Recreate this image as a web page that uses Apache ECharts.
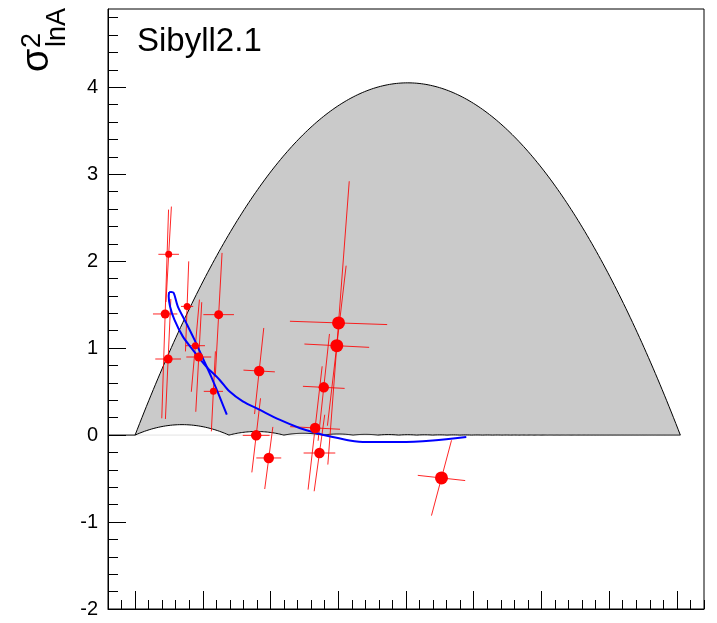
<!DOCTYPE html>
<html>
<head>
<meta charset="utf-8">
<script src="https://cdn.jsdelivr.net/npm/echarts@6/dist/echarts.min.js"></script>
<style>
  html, body { margin: 0; padding: 0; background: #fff; }
  #chart { width: 717px; height: 623px; }
</style>
</head>
<body>
<div id="chart"></div>
<script>
// Axis ranges and tick values
const xRange = [-0.2, 4.2];
const yRange = [-2, 4.9];
const xMajorTicks = [0, 0.5, 1, 1.5, 2, 2.5, 3, 3.5, 4];
const yTickLabels = [-2, -1, 0, 1, 2, 3, 4];

// Measured points: <lnA>, sigma^2(lnA), and the two (correlated) error arms
const pointLnA   = [0.248, 0.384, 0.445, 0.578, 0.222, 0.244, 0.470, 0.617, 0.916, 0.894, 0.987, 1.329, 1.361, 1.393, 1.489, 1.502, 2.262];
const pointSigma = [2.079, 1.480, 1.028, 0.503, 1.393, 0.875, 0.898, 1.385, 0.737, -0.003, -0.263, 0.082, -0.206, 0.549, 1.028, 1.290, -0.493];
const armHx = [0.076, 0.045, 0.071, 0.071, 0.090, 0.095, 0.092, 0.113, 0.116, 0.099, 0.092, 0.184, 0.117, 0.154, 0.239, 0.359, 0.175];
const armHy = [0, 0, 0, 0, 0, 0, 0, 0, -0.010, 0, 0, -0.015, 0, -0.012, -0.019, -0.019, -0.030];
const armVx = [0.020, 0.012, 0.030, 0.015, 0.025, 0.020, 0.022, 0.025, 0.034, 0.032, 0.030, 0.052, 0.039, 0.042, 0.069, 0.079, 0.074];
const armVy = [0.549, 0.518, 0.530, 0.460, 1.200, 0.690, 0.630, 0.710, 0.495, 0.426, 0.357, 0.709, 0.440, 0.614, 0.920, 1.629, 0.433];
const pointClass = [0, 0, 0, 0, 1, 1, 1, 1, 2, 2, 2, 2, 2, 2, 3, 3, 3];

// Model curves
const curveLongLnA   = [0.251, 0.248, 0.258, 0.290, 0.352, 0.425, 0.524, 0.623, 0.696, 0.795, 0.918, 1.066, 1.214, 1.337, 1.459, 1.583, 1.706, 1.952, 2.198, 2.445];
const curveLongSigma = [1.644, 1.596, 1.480, 1.327, 1.135, 0.982, 0.790, 0.637, 0.503, 0.388, 0.292, 0.177, 0.082, 0.024, -0.022, -0.061, -0.079, -0.079, -0.061, -0.022];
const curveShortLnA   = [0.251, 0.266, 0.285, 0.315, 0.377, 0.438, 0.499, 0.561, 0.623, 0.677];
const curveShortSigma = [1.644, 1.646, 1.635, 1.480, 1.290, 1.097, 0.887, 0.675, 0.445, 0.235];

// Physically allowed region for mixtures of nuclei with mass number A = 1..56
const lnAMax = Math.log(56);
const regionPts = [];
for (let i = 0; i <= 240; i++) {
  const l = lnAMax * i / 240;
  regionPts.push([l, l * (lnAMax - l)]);
}
for (let k = 55; k >= 1; k--) {
  const a = Math.log(k), b = Math.log(k + 1);
  const n = k < 6 ? 40 : 6;
  for (let j = 0; j <= n; j++) {
    const l = b - (b - a) * j / n;
    regionPts.push([l, (l - a) * (b - l)]);
  }
}

const xMinorTicks = [];
for (let i = -2; i <= 42; i++) xMinorTicks.push(+(i / 10).toFixed(1));
const yMinorTicks = [];
for (let i = -10; i <= 24; i++) yMinorTicks.push(+(i / 5).toFixed(1));

const markerSizes = [7, 9, 10.5, 13];
const FONT = 'Liberation Sans, Arial, Helvetica, sans-serif';

const errRows = pointLnA.map((x, i) => [x, pointSigma[i], armHx[i], armHy[i], armVx[i], armVy[i]]);
const classData = markerSizes.map((_, c) =>
  pointLnA.map((x, i) => [x, pointSigma[i], i]).filter(d => pointClass[d[2]] === c).map(d => [d[0], d[1]])
);

const chart = echarts.init(document.getElementById('chart'), null, { renderer: 'canvas' });

const baseX = {
  type: 'value', min: xRange[0], max: xRange[1],
  splitLine: { show: false }, axisLabel: { show: false }
};
const baseY = {
  type: 'value', min: yRange[0], max: yRange[1],
  splitLine: { show: false }
};

const option = {
  animation: false,
  backgroundColor: '#fff',
  grid: { left: 108, right: 13, top: 9, bottom: 14, show: true, borderColor: '#000', borderWidth: 1, backgroundColor: 'transparent' },
  xAxis: [
    Object.assign({}, baseX, {
      position: 'bottom',
      axisLine: { show: true, onZero: false, lineStyle: { color: '#000', width: 1 } },
      axisTick: { show: true, inside: true, length: 18, customValues: xMajorTicks, lineStyle: { color: '#000' } }
    }),
    Object.assign({}, baseX, {
      position: 'bottom',
      axisLine: { show: false, onZero: false },
      axisTick: { show: true, inside: true, length: 9, customValues: xMinorTicks, lineStyle: { color: '#000' } }
    })
  ],
  yAxis: [
    Object.assign({}, baseY, {
      position: 'left',
      axisLine: { show: true, onZero: false, lineStyle: { color: '#000', width: 1 } },
      axisTick: { show: true, inside: true, length: 18, customValues: yTickLabels, lineStyle: { color: '#000' } },
      axisLabel: { show: true, customValues: yTickLabels, fontSize: 20, color: '#000', fontFamily: FONT, margin: 10 }
    }),
    Object.assign({}, baseY, {
      position: 'left',
      axisLine: { show: false, onZero: false },
      axisTick: { show: true, inside: true, length: 10, customValues: yMinorTicks, lineStyle: { color: '#000' } },
      axisLabel: { show: false }
    })
  ],
  graphic: [
    {
      type: 'text', left: 137, top: 25, z: 100,
      style: { text: 'Sibyll2.1', fontSize: 33, fontFamily: FONT, fill: '#000' }
    },
    {
      type: 'group', x: 0, y: 72, rotation: Math.PI / 2, z: 100,
      children: [
        { type: 'text', x: 0, y: 38, style: { text: 'σ', fontSize: 38, fontFamily: FONT, fill: '#000', verticalAlign: 'middle', align: 'left' } },
        { type: 'text', x: 24, y: 33, style: { text: '2', fontSize: 27, fontFamily: FONT, fill: '#000', verticalAlign: 'middle', align: 'left' } },
        { type: 'text', x: 25, y: 58, style: { text: 'lnA', fontSize: 27, fontFamily: FONT, fill: '#000', verticalAlign: 'middle', align: 'left' } }
      ]
    }
  ],
  series: [
    {
      type: 'custom', name: 'allowed', z: 1,
      data: [[0, 0]],
      renderItem: function (params, api) {
        const pts = regionPts.map(p => api.coord(p));
        return {
          type: 'polygon',
          shape: { points: pts },
          style: { fill: '#cacaca', stroke: '#000', lineWidth: 1 }
        };
      },
      silent: true
    },
    {
      type: 'line', z: 0, silent: true, showSymbol: false,
      data: [[0, 0], [lnAMax, 0]],
      lineStyle: { color: '#e4e4e4', width: 1 }
    },
    {
      type: 'line', z: 2, silent: true, showSymbol: false,
      data: [[xRange[0], 0], [0, 0]],
      lineStyle: { color: '#000', width: 1 }
    },
    {
      type: 'custom', name: 'errors', z: 3, silent: true,
      data: errRows,
      encode: { x: 0, y: 1 },
      renderItem: function (params, api) {
        const x = api.value(0), y = api.value(1);
        const hx = api.value(2), hy = api.value(3), vx = api.value(4), vy = api.value(5);
        const a = api.coord([x - hx, y - hy]), b = api.coord([x + hx, y + hy]);
        const c = api.coord([x - vx, y - vy]), d = api.coord([x + vx, y + vy]);
        const st = { stroke: 'rgba(255,0,0,0.85)', lineWidth: 1 };
        return {
          type: 'group',
          children: [
            { type: 'line', shape: { x1: a[0], y1: a[1], x2: b[0], y2: b[1] }, style: st },
            { type: 'line', shape: { x1: c[0], y1: c[1], x2: d[0], y2: d[1] }, style: st }
          ]
        };
      }
    },
    {
      type: 'line', z: 4, silent: true, showSymbol: false, smooth: 0.3,
      data: curveLongLnA.map((x, i) => [x, curveLongSigma[i]]),
      lineStyle: { color: '#0000ff', width: 2 }
    },
    {
      type: 'line', z: 4, silent: true, showSymbol: false, smooth: 0.3,
      data: curveShortLnA.map((x, i) => [x, curveShortSigma[i]]),
      lineStyle: { color: '#0000ff', width: 2 }
    }
  ].concat(classData.map((d, c) => ({
    type: 'scatter', z: 5, silent: true,
    data: d, symbol: 'circle', symbolSize: markerSizes[c],
    itemStyle: { color: '#ff0000', opacity: 1 }
  })))
};

chart.setOption(option);
</script>
</body>
</html>
